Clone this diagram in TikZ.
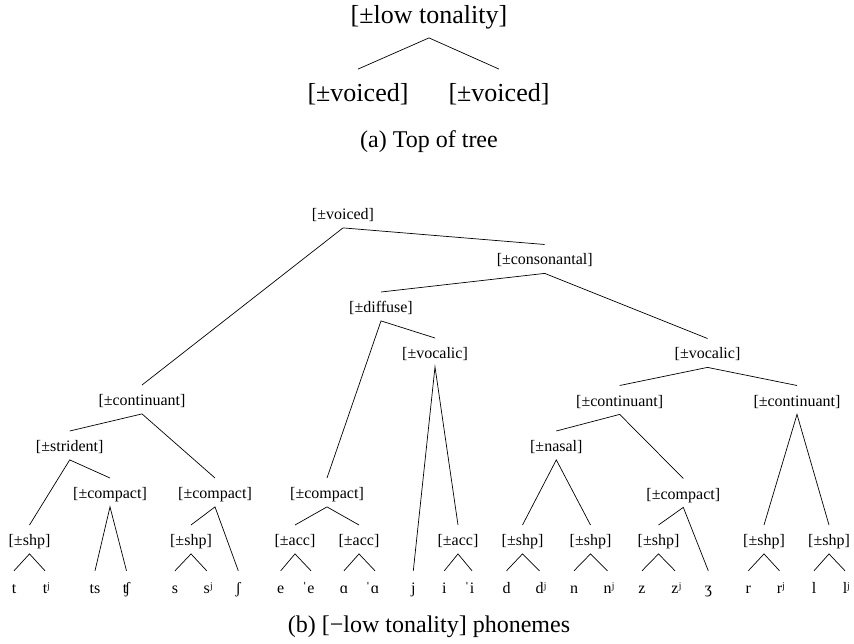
\documentclass[tikz,border=0pt]{standalone}
\usepackage{fontspec}
\setmainfont{Liberation Serif}
\begin{document}
\begin{tikzpicture}[x=1pt,y=-1pt,
  lab/.style={font=\fontsize{16}{19}\selectfont, anchor=base, inner xsep=1pt, inner ysep=4pt, text height=16.3pt, text depth=4.2pt},
  leaf/.style={lab, inner ysep=5.7pt},
  big/.style={font=\fontsize{24}{28}\selectfont, anchor=base, inner xsep=1pt, text height=17pt, text depth=5pt},
  bigger/.style={big, font=\fontsize{26}{30}\selectfont},
  topnode/.style={bigger, inner ysep=8.7pt},
  kid/.style={bigger, inner ysep=15.7pt},
  edge/.style={draw, line width=0.7pt}]
\useasboundingbox (0,0) rectangle (854,644);
% ---- (a) top of tree
\node[topnode] (top) at (429,24) {[±low tonality]};
\node[kid] (vl) at (358,102) {[±voiced]};
\node[kid] (vr) at (499,102) {[±voiced]};
\node[big] (capa) at (429,148) {(a) Top of tree};
\draw[edge] (vl.north) -- (top.south) -- (vr.north);
% ---- (b) internal nodes
\node[lab] (voiced) at (343,219.5) {[±voiced]};
\node[lab] (cons) at (544.7,265) {[±consonantal]};
\node[lab] (diffuse) at (381,312.5) {[±diffuse]};
\node[lab] (vocM) at (435,358.5) {[±vocalic]};
\node[lab] (vocR) at (707.5,359) {[±vocalic]};
\node[lab] (contL) at (142,405.5) {[±continuant]};
\node[lab] (contM) at (619.7,406) {[±continuant]};
\node[lab] (contR) at (797,406) {[±continuant]};
\node[lab] (strident) at (69.7,451.5) {[±strident]};
\node[lab] (nasal) at (556.3,451.5) {[±nasal]};
\node[lab] (compA) at (110,498.5) {[±compact]};
\node[lab] (compB) at (215,498.5) {[±compact]};
\node[lab] (compC) at (327,498.5) {[±compact]};
\node[lab] (compD) at (683.3,499) {[±compact]};
\node[lab] (shp1) at (29.5,545.5) {[±shp]};
\node[lab] (shp2) at (191,545.5) {[±shp]};
\node[lab] (acc1) at (295,545.5) {[±acc]};
\node[lab] (acc2) at (359,545.5) {[±acc]};
\node[lab] (acc3) at (458,545.5) {[±acc]};
\node[lab] (shp4) at (522.5,545.5) {[±shp]};
\node[lab] (shp5) at (590.5,545.5) {[±shp]};
\node[lab] (shp6) at (658.5,545.5) {[±shp]};
\node[lab] (shp7) at (764,545.5) {[±shp]};
\node[lab] (shp8) at (829,545.5) {[±shp]};
% ---- leaves
\node[leaf] (t) at (14,593) {t};
\node[leaf] (tj) at (45,593) {t\rlap{ʲ}};
\node[leaf] (ts) at (95,593) {ts};
\node[leaf] (tsh) at (126.5,593) {ʧ};
\node[leaf] (s) at (175,593) {s};
\node[leaf] (sj) at (206.7,593) {s\rlap{ʲ}};
\node[leaf] (sh) at (238.3,593) {ʃ};
\node[leaf] (e) at (280.7,593) {e};
\node[leaf] (es) at (311,593) {\llap{ˈ}e};
\node[leaf] (a) at (344,593) {ɑ};
\node[leaf] (as) at (375,593) {\llap{ˈ}ɑ};
\node[leaf] (j) at (413.3,593) {j};
\node[leaf] (i) at (444.3,593) {i};
\node[leaf] (is) at (472,593) {\llap{ˈ}i};
\node[leaf] (d) at (506.5,593) {d};
\node[leaf] (dj) at (539.5,593) {d\rlap{ʲ}};
\node[leaf] (n) at (574,593) {n};
\node[leaf] (nj) at (607.5,593) {n\rlap{ʲ}};
\node[leaf] (z) at (642,593) {z};
\node[leaf] (zj) at (675,593) {z\rlap{ʲ}};
\node[leaf] (zh) at (708.3,593) {ʒ};
\node[leaf] (r) at (748.3,593) {r};
\node[leaf] (rj) at (779.5,593) {r\rlap{ʲ}};
\node[leaf] (l) at (814,593) {l};
\node[leaf] (lj) at (845,593) {l\rlap{ʲ}};
\node[big] (capb) at (429,632) {(b) [−low tonality] phonemes};
% ---- edges
\foreach \p/\a/\b in {voiced/contL/cons, cons/diffuse/vocR, diffuse/compC/vocM,
  vocM/j/acc3, vocR/contM/contR, contL/strident/compB, strident/shp1/compA,
  compA/ts/tsh, compB/shp2/sh, shp1/t/tj, shp2/s/sj, compC/acc1/acc2,
  acc1/e/es, acc2/a/as, acc3/i/is, contM/nasal/compD, nasal/shp4/shp5,
  compD/shp6/zh, shp4/d/dj, shp5/n/nj, shp6/z/zj, contR/shp7/shp8,
  shp7/r/rj, shp8/l/lj}
  \draw[edge] (\a.north) -- (\p.south) -- (\b.north);
\end{tikzpicture}
\end{document}
